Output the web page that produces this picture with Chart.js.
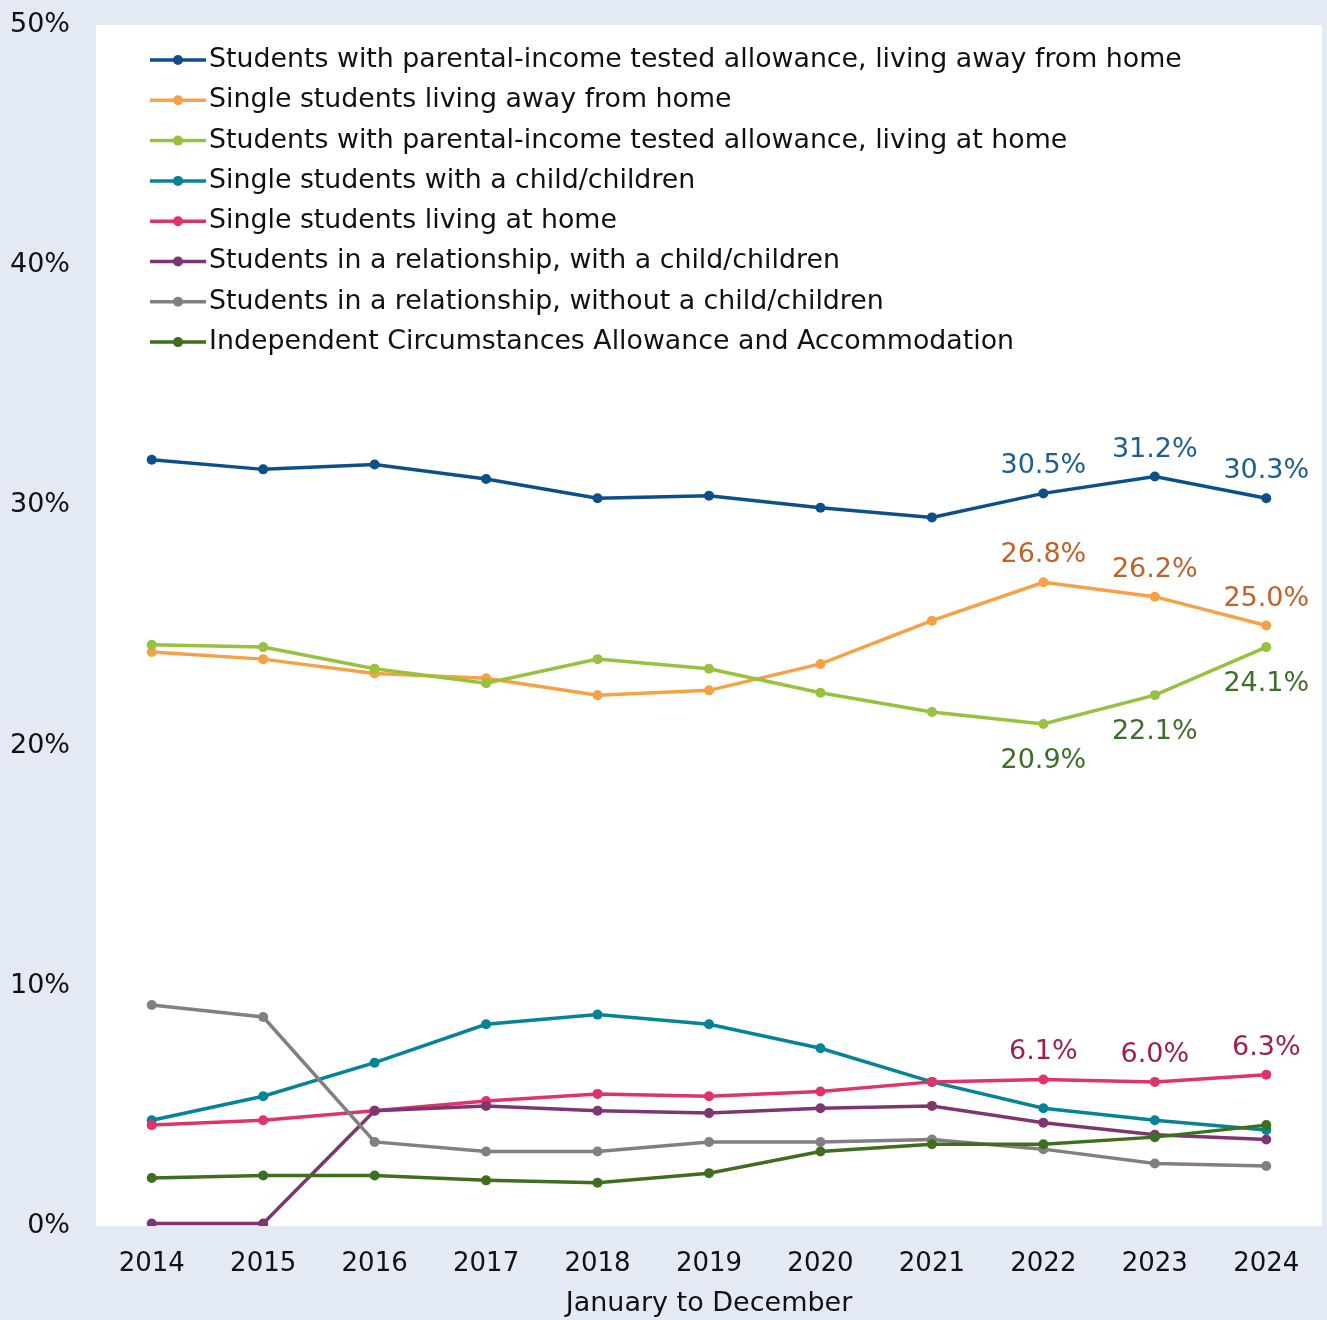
<!DOCTYPE html>
<html>
<head>
<meta charset="utf-8">
<script src="https://cdn.jsdelivr.net/npm/chart.js@4.4.1/dist/chart.umd.min.js"></script>
<style>
html, body { margin: 0; padding: 0; background: #e4eaf4; }
</style>
</head>
<body>
<canvas id="myChart" width="1327" height="1320"></canvas>
<script>
// years on the x axis
const years = ['2014', '2015', '2016', '2017', '2018', '2019', '2020', '2021', '2022', '2023', '2024'];
const yTicks = [0, 10, 20, 30, 40, 50];

// share of recipients, percent
const parentalAway   = [31.9, 31.5, 31.7, 31.1, 30.3, 30.4, 29.9, 29.5, 30.5, 31.2, 30.3];
const singleAway     = [23.9, 23.6, 23.0, 22.8, 22.1, 22.3, 23.4, 25.2, 26.8, 26.2, 25.0];
const parentalHome   = [24.2, 24.1, 23.2, 22.6, 23.6, 23.2, 22.2, 21.4, 20.9, 22.1, 24.1];
const singleChild    = [4.4, 5.4, 6.8, 8.4, 8.8, 8.4, 7.4, 6.0, 4.9, 4.4, 4.0];
const singleHome     = [4.2, 4.4, 4.8, 5.2, 5.5, 5.4, 5.6, 6.0, 6.1, 6.0, 6.3];
const coupleChild    = [0.1, 0.1, 4.8, 5.0, 4.8, 4.7, 4.9, 5.0, 4.3, 3.8, 3.6];
const coupleNoChild  = [9.2, 8.7, 3.5, 3.1, 3.1, 3.5, 3.5, 3.6, 3.2, 2.6, 2.5];
const independent    = [2.0, 2.1, 2.1, 1.9, 1.8, 2.2, 3.1, 3.4, 3.4, 3.7, 4.2];

const FONT = '"DejaVu Sans", Verdana, sans-serif';

const series = [
    { label: 'Students with parental-income tested allowance, living away from home', data: parentalAway, color: '#0d4f8b', labelColor: '#1f5e8e', labelPos: 'above' },
    { label: 'Single students living away from home', data: singleAway, color: '#f7a146', labelColor: '#c0622b', labelPos: 'above' },
    { label: 'Students with parental-income tested allowance, living at home', data: parentalHome, color: '#98c13d', labelColor: '#3f6e2c', labelPos: 'below' },
    { label: 'Single students with a child/children', data: singleChild, color: '#058496' },
    { label: 'Single students living at home', data: singleHome, color: '#df336b', labelColor: '#a01e4f', labelPos: 'above' },
    { label: 'Students in a relationship, with a child/children', data: coupleChild, color: '#7d3670' },
    { label: 'Students in a relationship, without a child/children', data: coupleNoChild, color: '#808080' },
    { label: 'Independent Circumstances Allowance and Accommodation', data: independent, color: '#3f6e1f' }
];

// page background + white plot area
const backdrop = {
    id: 'backdrop',
    beforeDraw(chart) {
        const { ctx, chartArea: a } = chart;
        ctx.save();
        ctx.fillStyle = '#e4eaf4';
        ctx.fillRect(0, 0, chart.width, chart.height);
        ctx.fillStyle = '#ffffff';
        ctx.fillRect(a.left, a.top, a.right - a.left, a.bottom - a.top);
        ctx.restore();
    }
};

// legend sits inside the plot area, line + dot markers
const insideLegend = {
    id: 'insideLegend',
    afterDraw(chart) {
        const ctx = chart.ctx;
        ctx.save();
        ctx.font = '26.8px ' + FONT;
        ctx.textBaseline = 'middle';
        chart.data.datasets.forEach((ds, i) => {
            const y = 60 + i * 40.3;
            ctx.strokeStyle = ds.borderColor;
            ctx.lineWidth = 3.5;
            ctx.beginPath();
            ctx.moveTo(150, y);
            ctx.lineTo(206, y);
            ctx.stroke();
            ctx.fillStyle = ds.borderColor;
            ctx.beginPath();
            ctx.arc(178, y, 5, 0, Math.PI * 2);
            ctx.fill();
            ctx.fillStyle = '#111111';
            ctx.fillText(ds.label, 209, y);
        });
        ctx.restore();
    }
};

// value labels on the last three years
const endLabels = {
    id: 'endLabels',
    afterDatasetsDraw(chart) {
        const ctx = chart.ctx;
        ctx.save();
        ctx.font = '27px ' + FONT;
        ctx.textAlign = 'center';
        ctx.textBaseline = 'middle';
        chart.data.datasets.forEach((ds, i) => {
            if (!ds.labelPos) return;
            const meta = chart.getDatasetMeta(i);
            ctx.fillStyle = ds.labelColor;
            for (let k = years.length - 3; k < years.length; k++) {
                const pt = meta.data[k];
                const dy = ds.labelPos === 'above' ? -27 : 37;
                ctx.fillText(ds.data[k].toFixed(1) + '%', pt.x, pt.y + dy);
            }
        });
        ctx.restore();
    }
};

const ctx = document.getElementById('myChart').getContext('2d');
const myChart = new Chart(ctx, {
    type: 'line',
    data: {
        labels: years,
        datasets: series.map((s, i) => ({
            label: s.label,
            data: s.data,
            borderColor: s.color,
            backgroundColor: s.color,
            pointBackgroundColor: s.color,
            pointBorderColor: s.color,
            borderWidth: 3.5,
            pointRadius: 5,
            pointBorderWidth: 0,
            tension: 0,
            order: series.length - i,
            labelColor: s.labelColor,
            labelPos: s.labelPos
        }))
    },
    options: {
        responsive: false,
        animation: false,
        layout: { padding: { top: 25, right: 4, left: 0, bottom: 0 } },
        plugins: {
            legend: { display: false },
            tooltip: { enabled: false }
        },
        scales: {
            x: {
                offset: true,
                grid: { display: false },
                border: { display: false },
                ticks: { color: '#111111', font: { family: FONT, size: 26 }, padding: 15, maxRotation: 0 },
                title: { display: true, text: 'January to December', color: '#111111', font: { family: FONT, size: 27 }, padding: { top: 0, bottom: 0 } },
                afterFit: scale => { scale.height = 94; }
            },
            y: {
                min: 0,
                max: 50,
                grid: { display: false },
                border: { display: false },
                afterBuildTicks: scale => { scale.ticks = yTicks.map(v => ({ value: v })); },
                ticks: {
                    color: '#111111',
                    font: { family: FONT, size: 27 },
                    padding: 18,
                    callback: v => v + '%'
                },
                afterFit: scale => {
                    scale.width = 96;
                    scale.paddingTop = 0;
                    scale.paddingBottom = 0;
                }
            }
        }
    },
    plugins: [backdrop, insideLegend, endLabels]
});
</script>
</body>
</html>
